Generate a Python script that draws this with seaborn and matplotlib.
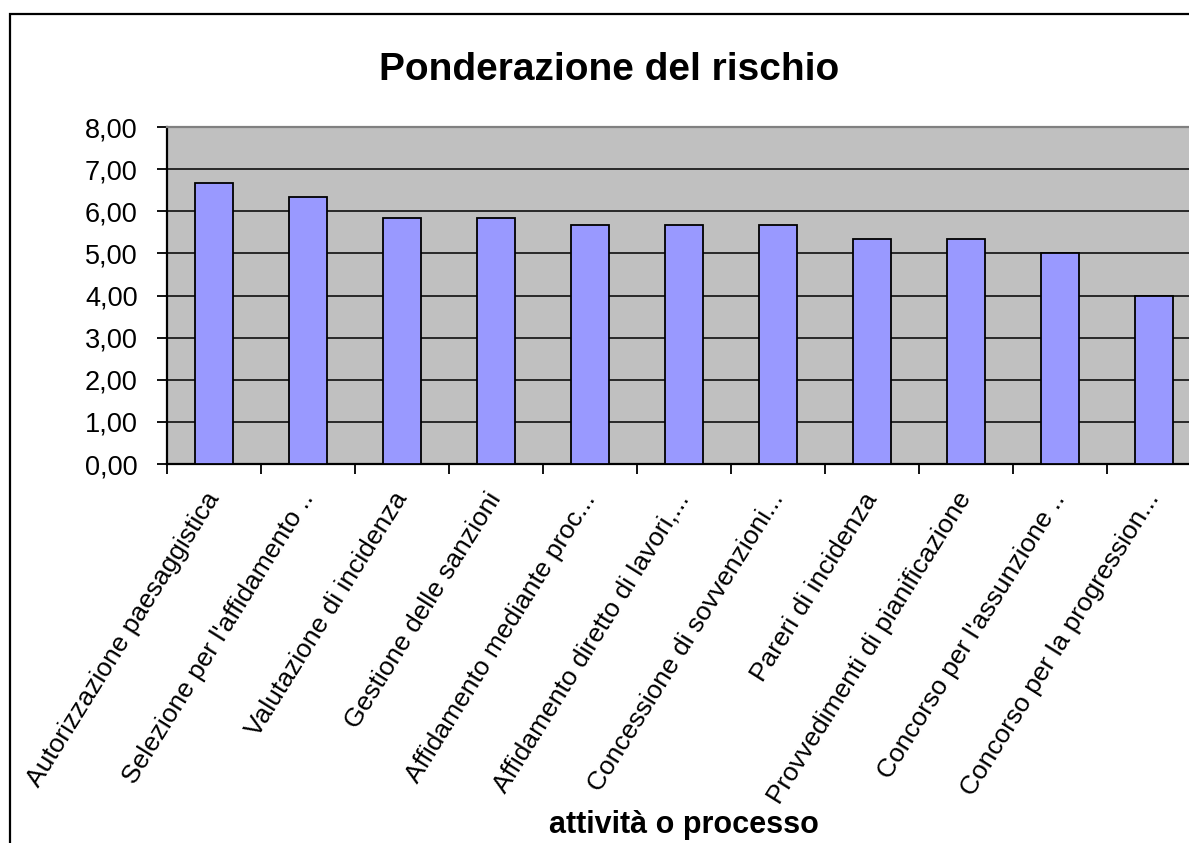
import numpy as np
import matplotlib
matplotlib.use("Agg")
import matplotlib.pyplot as plt
from matplotlib.patches import Rectangle
from matplotlib.ticker import FuncFormatter, FixedLocator
import seaborn as sns
import pandas as pd

categories = [
    "Autorizzazione paesaggistica",
    "Selezione per l'affidamento ..",
    "Valutazione di incidenza",
    "Gestione delle sanzioni",
    "Affidamento mediante proc...",
    "Affidamento diretto di lavori,...",
    "Concessione di sovvenzioni...",
    "Pareri di incidenza",
    "Provvedimenti di pianificazione",
    "Concorso per l'assunzione ..",
    "Concorso per la progression...",
]
values = [6.67, 6.33, 5.83, 5.83, 5.67, 5.67, 5.67, 5.33, 5.33, 5.00, 4.00]

title = "Ponderazione del rischio"
xlabel = "attività o processo"

sns.set_theme(style="white")
plt.rcParams["font.family"] = ["Liberation Sans", "DejaVu Sans"]
plt.rcParams["text.color"] = "black"
plt.rcParams["xtick.color"] = "black"
plt.rcParams["ytick.color"] = "black"
plt.rcParams["xtick.labelcolor"] = "black"
plt.rcParams["ytick.labelcolor"] = "black"

W, H = 1189, 843
fig = plt.figure(figsize=(W / 100, H / 100), dpi=100)
fig.patch.set_facecolor("white")

# plot area runs past the right edge of the picture, as in the reference
ax = fig.add_axes([167 / W, (H - 464) / H, 1034 / W, 337 / H])
ax.set_facecolor("#C0C0C0")

df = pd.DataFrame({"cat": categories, "val": values})
sns.barplot(data=df, x="cat", y="val", color="#9999FF", saturation=1,
            edgecolor="black", linewidth=1.3, width=0.4, ax=ax, zorder=3)

ax.set_ylim(0, 8)
ax.set_xlim(-0.5, len(categories) - 0.5)
ax.set_yticks(np.arange(0, 9, 1))
ax.yaxis.set_major_formatter(FuncFormatter(lambda v, p: f"{v:.2f}".replace(".", ",")))
ax.grid(axis="y", color="black", linewidth=1.1, zorder=0)
ax.set_axisbelow(True)

ax.tick_params(axis="y", which="major", direction="out", length=7, width=1.3,
               color="black", labelcolor="black", labelsize=19.5, pad=14, left=True)
ax.xaxis.set_minor_locator(FixedLocator(np.arange(-0.5, len(categories), 1)))
ax.tick_params(axis="x", which="major", length=0, pad=22, labelsize=19,
               labelcolor="black")
ax.tick_params(axis="x", which="minor", direction="out", length=7, width=1.3,
               color="black", bottom=True)
for lab in ax.get_xticklabels():
    lab.set_rotation(58)
    lab.set_ha("right")
    lab.set_va("center")
    lab.set_rotation_mode("anchor")

for s in ["left", "bottom"]:
    ax.spines[s].set_color("black")
    ax.spines[s].set_linewidth(1.6)
ax.spines["top"].set_color("#808080")
ax.spines["top"].set_linewidth(1.6)
ax.spines["right"].set_visible(False)

ax.set_ylabel("")
ax.set_xlabel("")
fig.text(684 / W, 1 - 833 / H, xlabel, ha="center", va="baseline",
         fontsize=22, fontweight="bold", color="black")
fig.text(609 / W, 1 - 80 / H, title, ha="center", va="baseline",
         fontsize=28, fontweight="bold", color="black")

# outer chart border (cut off on the right and bottom)
fig.patches.append(Rectangle((10 / W, -0.1), 2.0, 1.1 - 14 / H,
                             transform=fig.transFigure, fill=False,
                             edgecolor="black", linewidth=1.6))

fig.savefig("out.png", dpi=100)
